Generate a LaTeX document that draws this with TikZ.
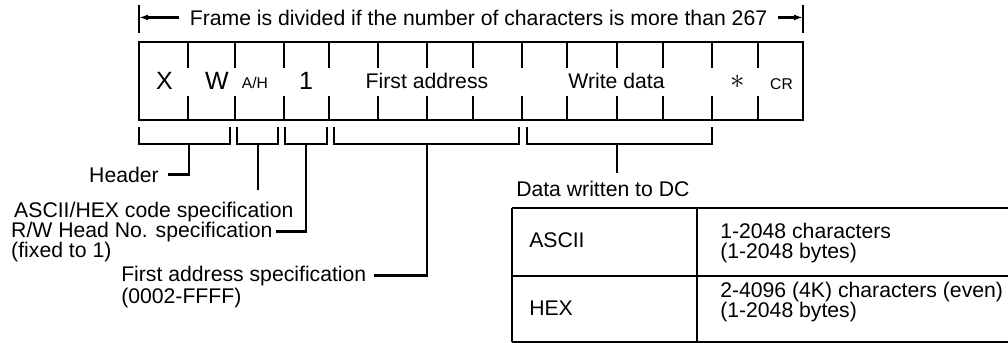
\documentclass[tikz,border=0pt]{standalone}
\usepackage{fontspec}
\setmainfont{Liberation Sans}
\usetikzlibrary{arrows.meta,positioning}

\begin{document}
\begin{tikzpicture}[x=0.5pt, y=-0.5pt, line width=1.25pt,
  font=\fontsize{10.6}{12.5}\selectfont,
  lbl/.style={inner sep=0pt, anchor=base west},
  cell/.style={inner sep=0pt, anchor=base},
  big/.style={font=\fontsize{12.5}{14}\selectfont},
  small/.style={font=\fontsize{7.8}{9}\selectfont},
  tip/.style={-{Latex[length=4.5pt,width=3pt]}}]
\useasboundingbox (0,0) rectangle (1008,343);
\def\ft{42}     % frame top
\def\fb{120}    % frame bottom
\def\bt{127}    % bracket top
\def\bb{144}    % bracket bottom

% ================= frame length =================
\node[lbl, anchor=base, inner xsep=5pt] (title) at (478.5,25)
  {Frame is divided if the number of characters is more than 267};
\coordinate (lend) at (139,19);
\coordinate (rend) at (803,19);
\draw (139,5) -- (139,33);
\draw (803,5) -- (803,33);
\draw[tip] (title.west) -- (title.west -| lend);
\draw[tip] (title.east) -- (title.east -| rend);

% ================= the frame =================
\draw (139,\ft) rectangle (803,\fb);
\foreach \x in {188,235,284,329,378,427,473,522,567,617,663,712,758}
  \draw (\x,\ft) -- (\x,68) (\x,96) -- (\x,\fb);

\node[cell, big] (cx) at (164.5,89) {X};
\node[cell, big] (cw) at (217,89) {W};
\node[cell, small] (cah) at (255,88) {A/H};
\node[cell, big] (cone) at (306,89) {1};
\node[cell] (cfa) at (427,88) {First address};
\node[cell] (cwd) at (616.5,88) {Write data};
\node[inner sep=0pt, font=\fontsize{15}{15}\selectfont] (cast) at (738,82) {$\ast$};
\node[cell, small] (ccr) at (781.5,89) {CR};

% ---------- brackets under the fields ----------
\foreach \a/\b/\m/\n in {139/230/189/bhdr, 237/278/258/bah, 285/327/306/brw,
                         334/519/427/bfa, 527/712/617/bwd} {
  \draw (\a,\bt) -- (\a,\bb) -- (\b,\bb) -- (\b,\bt);
  \coordinate (\n) at (\m,\bb);
}

% ================= field labels =================
\node[lbl, anchor=base east] (hdr) at (160,182) {Header};
\draw[shorten >=4pt] (bhdr) |- (hdr.east);

\node[lbl] (ahx) at (13,217) {ASCII/HEX code specification};
\draw[shorten >=5pt] (bah) -- (bah |- ahx.north);

\node[lbl] (rwh) at (10,237) {R/W Head No. specification};
\node[lbl] (rwfix) at (10,257) {(fixed to 1)};
\draw[shorten >=1pt] (brw) |- (rwh.east);

\node[lbl] (fas) at (120,281) {First address specification};
\node[lbl] (farng) at (120,303) {(0002-FFFF)};
\draw[shorten >=3pt] (bfa) |- (fas.east);

\node[lbl] (dwdc) at (515,196) {Data written to DC};
\draw[shorten >=3pt] (bwd) -- (bwd |- dwdc.north);

% ================= data length table =================
\draw (512,208) -- (1008,208) (512,276) -- (1008,276) (512,342) -- (1008,342);
\draw (512,208) -- (512,342) (697,208) -- (697,342);

\node[lbl] (tasc) at (528,247) {ASCII};
\node[lbl] (tasca) at (719,238) {1-2048 characters};
\node[lbl] (tascb) at (719,258) {(1-2048 bytes)};
\node[lbl] (thex) at (528,315) {HEX};
\node[lbl] (thexa) at (719,297) {2-4096 (4K) characters (even)};
\node[lbl] (thexb) at (719,317) {(1-2048 bytes)};

\end{tikzpicture}
\end{document}
